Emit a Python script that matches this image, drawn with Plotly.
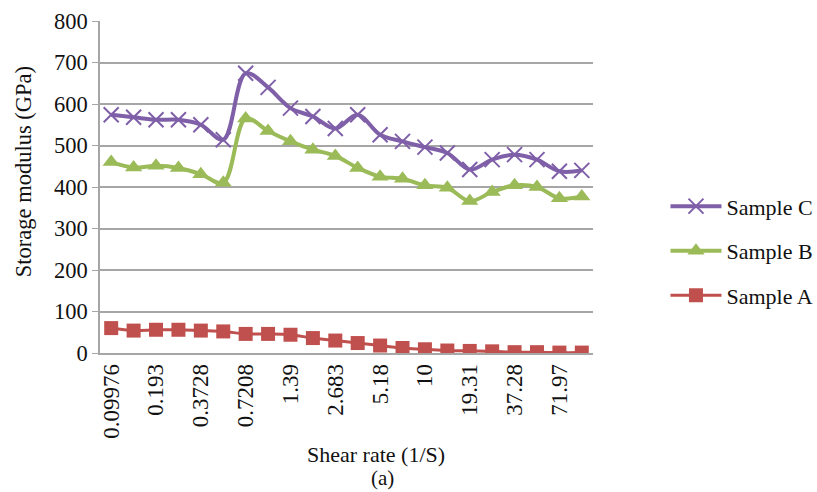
import plotly.graph_objects as go

shear_rate = ["0.09976", "0.1389", "0.193", "0.2683", "0.3728", "0.5179", "0.7208", "1",
              "1.39", "1.931", "2.683", "3.728", "5.18", "7.197", "10", "13.9",
              "19.31", "26.83", "37.28", "51.8", "71.97", "100"]
tick_labels = ["0.09976", "0.193", "0.3728", "0.7208", "1.39", "2.683", "5.18", "10", "19.31", "37.28", "71.97"]

sample_c = [574, 568, 562, 562, 550, 514, 674, 640, 590, 570, 541, 574,
            526, 510, 496, 482, 442, 466, 478, 466, 438, 440]
sample_b = [460, 447, 451, 446, 431, 410, 565, 535, 510, 490, 475, 446,
            425, 420, 404, 398, 366, 388, 404, 400, 373, 377]
sample_a = [60, 54, 56, 56, 54, 52, 46, 46, 44, 36, 30, 24,
            18, 12, 9, 6, 5, 4, 2, 2, 1, 1]

FONT = "Liberation Serif, Times New Roman, serif"

fig = go.Figure()
fig.add_trace(go.Scatter(
    x=shear_rate, y=sample_c, name="Sample C", mode="lines+markers",
    line=dict(color="#7F5FA8", width=4, shape="spline"),
    marker=dict(symbol="x-thin", size=15, color="#7F5FA8",
                line=dict(color="#7F5FA8", width=2)),
    legendgroup="c"))
fig.add_trace(go.Scatter(
    x=shear_rate, y=sample_b, name="Sample B", mode="lines+markers",
    line=dict(color="#9BBB59", width=4, shape="spline"),
    marker=dict(symbol="triangle-up", size=15, color="#9BBB59"),
    legendgroup="b"))
fig.add_trace(go.Scatter(
    x=shear_rate, y=sample_a, name="Sample A", mode="lines+markers",
    line=dict(color="#C0504D", width=3, shape="spline"),
    marker=dict(symbol="square", size=14, color="#C0504D"),
    legendgroup="a"))

fig.update_layout(
    width=817, height=492,
    margin=dict(l=100, r=224, t=21, b=139, autoexpand=False),
    paper_bgcolor="white", plot_bgcolor="white",
    font=dict(family=FONT, size=22, color="#111111"),
    showlegend=True,
    legend=dict(x=1.147, y=0.505, xanchor="left", yanchor="top",
                traceorder="grouped", tracegroupgap=13,
                itemwidth=51, font=dict(family=FONT, size=22),
                bgcolor="rgba(0,0,0,0)"),
    xaxis=dict(type="category", tickmode="array", tickvals=tick_labels, ticktext=tick_labels,
               tickangle=-90, showgrid=False, showline=True, linecolor="#A6A6A6", linewidth=1.5,
               ticks="", tickfont=dict(family=FONT, size=23), range=[-0.5, 21.5],
               automargin=False),
    yaxis=dict(range=[0, 800], dtick=100, showgrid=True, gridcolor="#A6A6A6", gridwidth=1.5,
               showline=True, linecolor="#A6A6A6", linewidth=1.5, ticks="outside",
               ticklen=6, tickcolor="#A6A6A6", zeroline=False, automargin=False,
               tickfont=dict(family=FONT, size=22.5)),
    annotations=[
        dict(text="Shear rate (1/S)", xref="paper", yref="paper", x=0.56, y=-0.306,
             xanchor="center", yanchor="middle", showarrow=False,
             font=dict(family=FONT, size=22)),
        dict(text="(a)", xref="paper", yref="paper", x=0.574, y=-0.4187,
             xanchor="center", yanchor="bottom", showarrow=False,
             font=dict(family=FONT, size=21)),
        dict(text="Storage modulus (GPa)", xref="paper", yref="paper", x=-0.156, y=0.545,
             xanchor="center", yanchor="middle", showarrow=False, textangle=-90,
             font=dict(family=FONT, size=22.5)),
    ],
)

fig.write_html("out.html", config={"displayModeBar": False},
               post_script="document.body.style.margin='0';document.body.style.padding='0';")
